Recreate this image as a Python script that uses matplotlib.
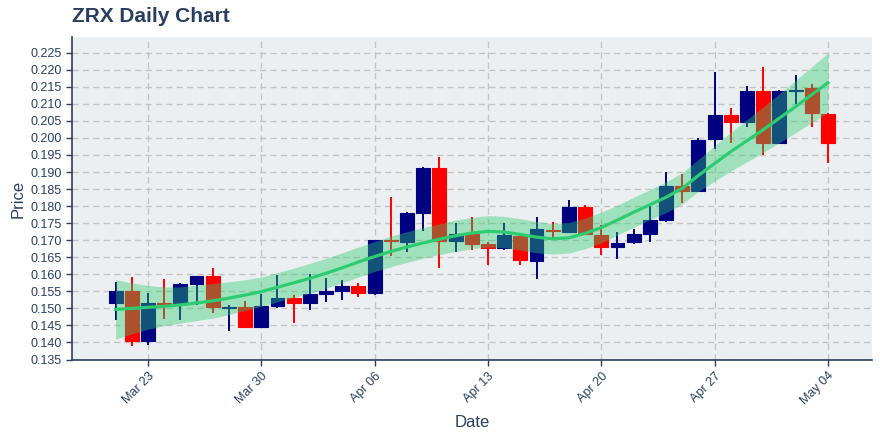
import numpy as np
import pandas as pd
import matplotlib
matplotlib.use('Agg')
import matplotlib.pyplot as plt
import matplotlib.dates as mdates

plt.rcParams['font.family'] = ['Liberation Sans', 'DejaVu Sans']

# ---- data ----
start_date = '2020-03-21'
end_date = '2020-05-04'
opens = [0.1516, 0.1551, 0.1405, 0.1516, 0.1513, 0.1571, 0.1594, 0.1502, 0.1503, 0.1446,
         0.1506, 0.1531, 0.1516, 0.1542, 0.1551, 0.1565, 0.1544, 0.1702, 0.1695, 0.1780,
         0.1911, 0.1698, 0.1717, 0.1688, 0.1676, 0.1713, 0.1639, 0.1731, 0.1724, 0.1798,
         0.1715, 0.1680, 0.1695, 0.1718, 0.1759, 0.1858, 0.1844, 0.1996, 0.2067, 0.2047,
         0.2137, 0.1986, 0.2137, 0.2147, 0.2070]
highs = [0.1578, 0.1591, 0.1545, 0.1585, 0.1575, 0.1596, 0.1618, 0.1509, 0.1521, 0.1541,
         0.1597, 0.1539, 0.1602, 0.1589, 0.1583, 0.1575, 0.1700, 0.1826, 0.1783, 0.1916,
         0.1945, 0.1751, 0.1767, 0.1695, 0.1751, 0.1720, 0.1767, 0.1754, 0.1819, 0.1802,
         0.1744, 0.1724, 0.1734, 0.1800, 0.1900, 0.1894, 0.1999, 0.2192, 0.2087, 0.2152,
         0.2207, 0.2142, 0.2184, 0.2158, 0.2073]
lows = [0.1465, 0.1389, 0.1392, 0.1470, 0.1465, 0.1509, 0.1487, 0.1434, 0.1446, 0.1446,
        0.1500, 0.1457, 0.1495, 0.1519, 0.1526, 0.1532, 0.1538, 0.1653, 0.1665, 0.1728,
        0.1619, 0.1666, 0.1671, 0.1627, 0.1671, 0.1627, 0.1585, 0.1707, 0.1722, 0.1718,
        0.1658, 0.1646, 0.1688, 0.1695, 0.1754, 0.1808, 0.1842, 0.1969, 0.1984, 0.2031,
        0.1949, 0.1986, 0.2101, 0.2031, 0.1927]
closes = [0.1551, 0.1405, 0.1516, 0.1513, 0.1571, 0.1594, 0.1503, 0.1504, 0.1446, 0.1506,
          0.1531, 0.1516, 0.1542, 0.1551, 0.1565, 0.1544, 0.1700, 0.1699, 0.1780, 0.1911,
          0.1698, 0.1717, 0.1690, 0.1676, 0.1715, 0.1641, 0.1732, 0.1728, 0.1798, 0.1718,
          0.1680, 0.1693, 0.1718, 0.1759, 0.1858, 0.1844, 0.1993, 0.2067, 0.2047, 0.2137,
          0.1986, 0.2137, 0.2142, 0.2072, 0.1986]
trend = [0.1497, 0.1500, 0.1503, 0.1506, 0.1510, 0.1516, 0.1522, 0.1530, 0.1539, 0.1549,
         0.1562, 0.1575, 0.1588, 0.1603, 0.1619, 0.1636, 0.1652, 0.1667, 0.1680, 0.1692,
         0.1703, 0.1713, 0.1721, 0.1726, 0.1724, 0.1717, 0.1709, 0.1704, 0.1707, 0.1720,
         0.1737, 0.1759, 0.1782, 0.1804, 0.1826, 0.1852, 0.1890, 0.1925, 0.1960, 0.1992,
         0.2024, 0.2058, 0.2092, 0.2127, 0.2162]
band_half = [0.0087, 0.0075, 0.0064, 0.0057, 0.0053, 0.0052, 0.0051, 0.0048, 0.0045, 0.0043,
             0.0043, 0.0043, 0.0044, 0.0044, 0.0044, 0.0044, 0.0044, 0.0045, 0.0045, 0.0045,
             0.0045, 0.0046, 0.0046, 0.0046, 0.0046, 0.0046, 0.0046, 0.0045, 0.0045, 0.0045,
             0.0045, 0.0044, 0.0044, 0.0044, 0.0045, 0.0046, 0.0047, 0.0052, 0.0057, 0.0062,
             0.0067, 0.0072, 0.0077, 0.0082, 0.0087]
y_ticks = [0.135, 0.140, 0.145, 0.150, 0.155, 0.160, 0.165, 0.170, 0.175, 0.180,
           0.185, 0.190, 0.195, 0.200, 0.205, 0.210, 0.215, 0.220, 0.225]
title = 'ZRX Daily Chart'

# ---- plotting ----
dates = pd.date_range(start_date, end_date, freq='D')
o = np.array(opens); h = np.array(highs); l = np.array(lows); c = np.array(closes)
t = np.array(trend); bh = np.array(band_half)

INC = '#000080'
DEC = '#ff0000'
TXT = '#2a3f5f'
colors = [INC if cc >= oo else DEC for oo, cc in zip(o, c)]

fig = plt.figure(figsize=(8.8, 4.4), dpi=100)
ax = fig.add_axes([72 / 880, 1 - 359.5 / 440, 800 / 880, (359.5 - 36.7) / 440])
ax.set_facecolor('#eceff1')

ax.vlines(dates, l, h, colors=colors, linewidth=1.4, zorder=2)
ax.bar(dates, np.abs(c - o), bottom=np.minimum(o, c), width=0.86,
       color=colors, edgecolor=colors, linewidth=0.8, zorder=3)
ax.fill_between(dates, t - bh, t + bh, color='#2ecc71', alpha=0.4, linewidth=0, zorder=4)
ax.plot(dates, t, color='#2ecc71', linewidth=2.3, zorder=5)

x0 = mdates.date2num(dates[0])
ax.set_xlim(x0 - 2.69, x0 + 46.72)
ax.set_ylim(0.135, 0.2297)

ax.set_yticks(y_ticks)
ax.yaxis.set_major_formatter(matplotlib.ticker.FormatStrFormatter('%.3f'))
ax.xaxis.set_major_locator(mdates.WeekdayLocator(byweekday=mdates.MO))
ax.xaxis.set_major_formatter(mdates.DateFormatter('%b %d'))

ax.grid(True, color='#c4c4c4', linestyle=(0, (4.5, 3)), linewidth=1.0)
ax.set_axisbelow(True)

for s in ['top', 'right']:
    ax.spines[s].set_visible(False)
for s in ['left', 'bottom']:
    ax.spines[s].set_color(TXT)
    ax.spines[s].set_linewidth(1.2)

ax.tick_params(axis='both', colors=TXT, labelcolor=TXT, length=4, width=1,
               labelsize=9, direction='out')
for lab in ax.get_xticklabels():
    lab.set_rotation(45)
    lab.set_ha('right')
    lab.set_va('top')
    lab.set_rotation_mode('anchor')

fig.text(72 / 880, 1 - 16 / 440, title, fontsize=15, fontweight='bold',
         color=TXT, ha='left', va='center')
fig.text(18 / 880, 1 - 199 / 440, 'Price', fontsize=12, color=TXT,
         rotation=90, ha='center', va='center')
fig.text(472 / 880, 1 - 422 / 440, 'Date', fontsize=12, color=TXT,
         ha='center', va='center')

fig.savefig('out.png', dpi=100)
